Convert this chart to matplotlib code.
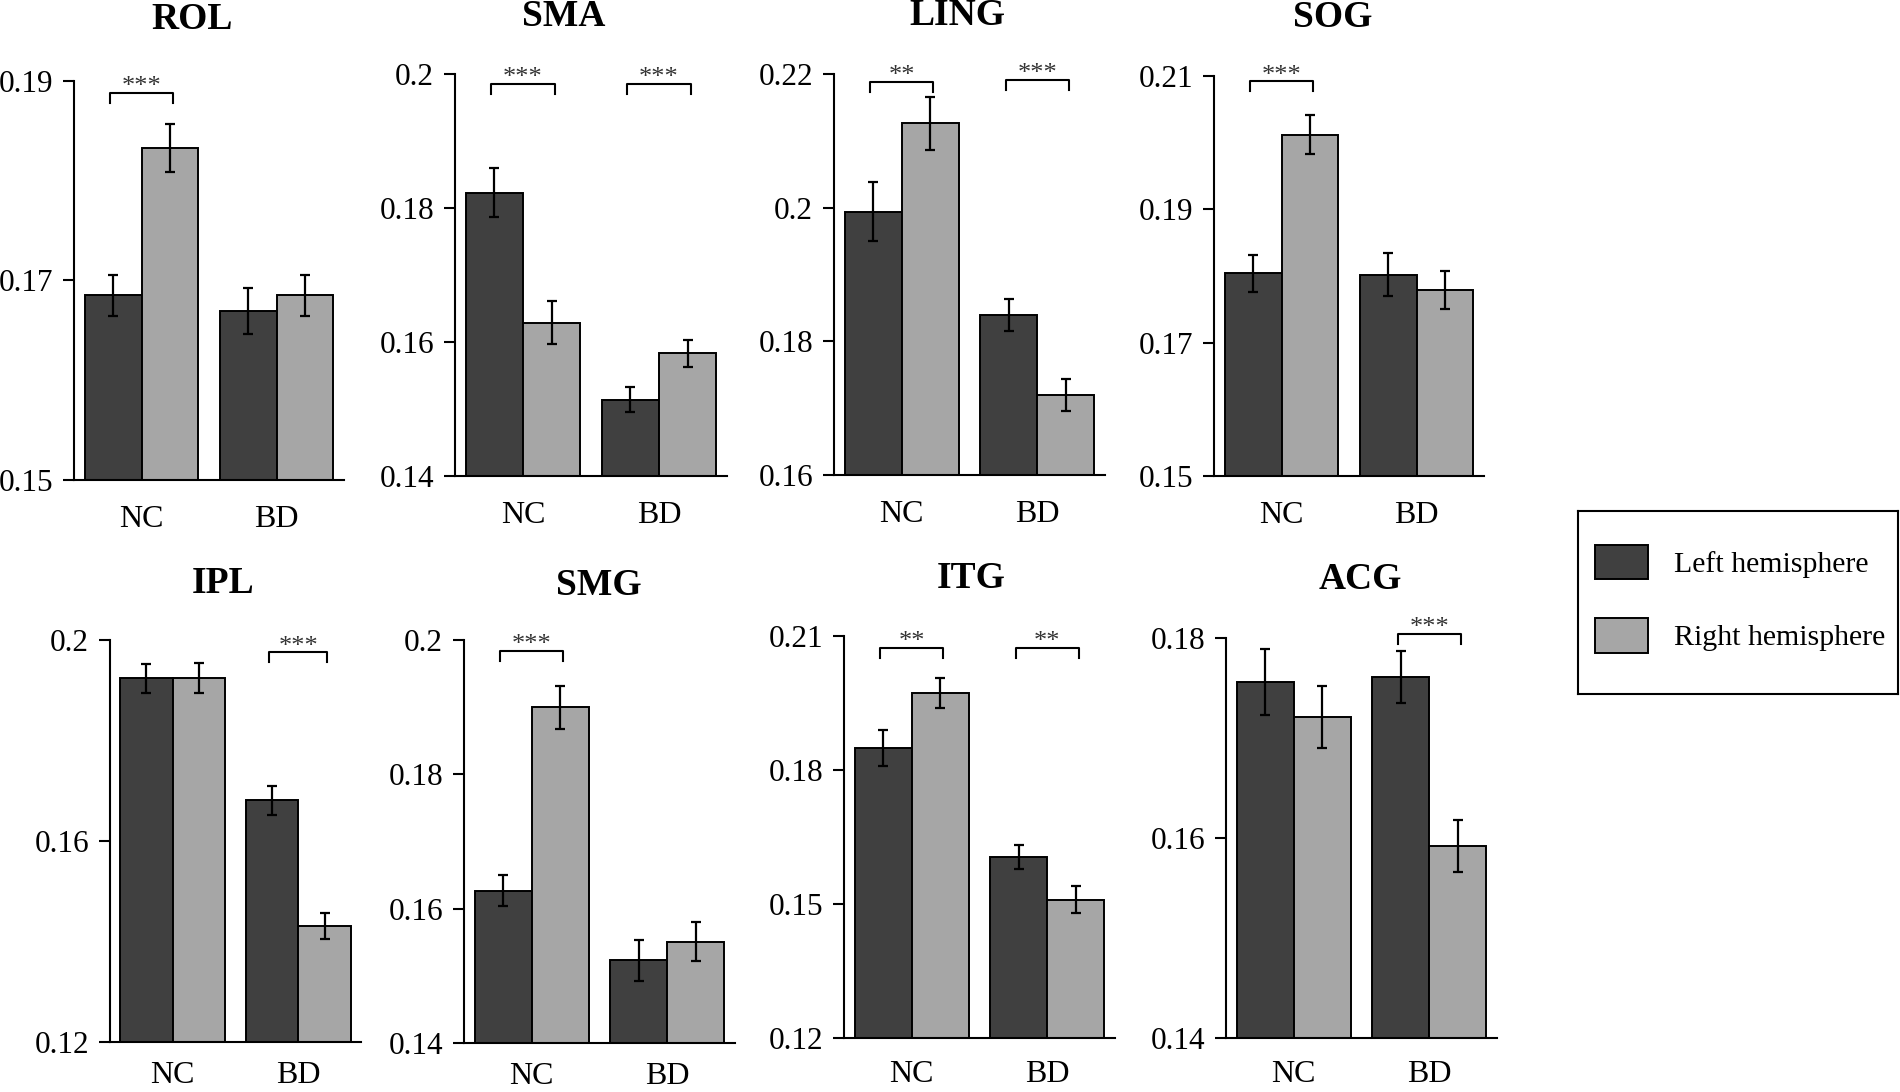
import numpy as np
import matplotlib
matplotlib.use("Agg")
import matplotlib.pyplot as plt
import matplotlib.patches as mpatches

plt.rcParams['font.family'] = ['Liberation Serif', 'DejaVu Serif']

# Data
regions = ["ROL", "SMA", "LING", "SOG", "IPL", "SMG", "ITG", "ACG"]
groups = ["NC", "BD"]

nc_left = [0.1685, 0.1823, 0.1994, 0.1804, 0.1924, 0.1627, 0.1849, 0.1756]
nc_right = [0.1833, 0.1629, 0.2126, 0.2012, 0.1925, 0.1900, 0.1972, 0.1721]
bd_left = [0.1669, 0.1514, 0.1840, 0.1802, 0.1681, 0.1523, 0.1605, 0.1761]
bd_right = [0.1685, 0.1583, 0.1720, 0.1779, 0.1431, 0.1551, 0.1510, 0.1592]

nc_left_err = [0.0021, 0.0036, 0.0044, 0.0028, 0.0029, 0.0023, 0.0040, 0.0033]
nc_right_err = [0.0024, 0.0032, 0.0040, 0.0029, 0.0030, 0.0032, 0.0034, 0.0031]
bd_left_err = [0.0023, 0.0019, 0.0024, 0.0032, 0.0029, 0.0031, 0.0026, 0.0026]
bd_right_err = [0.0021, 0.0020, 0.0024, 0.0029, 0.0026, 0.0029, 0.0031, 0.0026]

y_ticks = [
    [0.15, 0.17, 0.19],
    [0.14, 0.16, 0.18, 0.20],
    [0.16, 0.18, 0.20, 0.22],
    [0.15, 0.17, 0.19, 0.21],
    [0.12, 0.16, 0.20],
    [0.14, 0.16, 0.18, 0.20],
    [0.12, 0.15, 0.18, 0.21],
    [0.14, 0.16, 0.18],
]

# significance: (group index, stars, bracket height)
sig_marks = [
    [(0, "***", 0.1888)],
    [(0, "***", 0.1985), (1, "***", 0.1985)],
    [(0, "**", 0.2188), (1, "***", 0.2191)],
    [(0, "***", 0.2092)],
    [(1, "***", 0.1976)],
    [(0, "***", 0.1984)],
    [(0, "**", 0.2074), (1, "**", 0.2074)],
    [(1, "***", 0.1804)],
]

# layout in pixels: (left, top, width, bottom), title (x, baseline), x label pad
W, H = 1900, 1092
panel_px = [
    (74, 81, 270, 480), (455, 74, 272, 476), (834, 74, 271, 475), (1214, 76, 270, 476),
    (110, 640, 251, 1042), (464, 640, 271, 1043), (844, 636, 271, 1038), (1226, 638, 271, 1038),
]
title_px = [(192, 29), (564, 26), (957, 25), (1333, 27),
            (223, 593), (599, 595), (971, 588), (1360, 589)]
xlabel_pad = [18, 18, 18, 18, 14, 14, 16, 16]

dark = "#404040"
light = "#a6a6a6"
bw = 0.42

fig = plt.figure(figsize=(19, 10.92), dpi=100)

for i, name in enumerate(regions):
    l, t, w, b = panel_px[i]
    ax = fig.add_axes([l / W, 1 - b / H, w / W, (b - t) / H])
    x = np.arange(len(groups))
    lv = [nc_left[i], bd_left[i]]
    rv = [nc_right[i], bd_right[i]]
    le = [nc_left_err[i], bd_left_err[i]]
    re = [nc_right_err[i], bd_right_err[i]]
    ax.bar(x - bw / 2, lv, bw, color=dark, edgecolor="black", linewidth=1.4,
           yerr=le, error_kw=dict(ecolor="black", elinewidth=1.6, capsize=3.5, capthick=1.6))
    ax.bar(x + bw / 2, rv, bw, color=light, edgecolor="black", linewidth=1.4,
           yerr=re, error_kw=dict(ecolor="black", elinewidth=1.6, capsize=3.5, capthick=1.6))

    yt = y_ticks[i]
    ax.set_ylim(yt[0], yt[-1])
    ax.set_xlim(-0.5, 1.5)
    ax.set_yticks(yt)
    ax.set_yticklabels(["%g" % v for v in yt])
    ax.set_xticks(x)
    ax.set_xticklabels(groups)
    ax.tick_params(axis="y", direction="out", length=8, width=1.5, labelsize=22.5, pad=7)
    ax.tick_params(axis="x", length=0, labelsize=23, pad=xlabel_pad[i])
    for s in ["top", "right"]:
        ax.spines[s].set_visible(False)
    ax.spines["left"].set_linewidth(1.5)
    ax.spines["bottom"].set_linewidth(1.5)

    rng = yt[-1] - yt[0]
    for g, stars, h in sig_marks[i]:
        x0, x1 = g - 0.233, g + 0.233
        ax.plot([x0, x0, x1, x1], [h - 0.025 * rng, h, h, h - 0.025 * rng],
                color="black", linewidth=1.5, clip_on=False)
        ax.annotate(stars, xy=(g, h), xytext=(0, 4), textcoords="offset points",
                    ha="center", va="center", fontsize=19, color="#333333",
                    annotation_clip=False)

    tx, ty = title_px[i]
    fig.text(tx / W, 1 - ty / H, name, ha="center", va="baseline",
             fontsize=27, fontweight="bold")

# legend box
lax = fig.add_axes([1578 / W, 1 - 694 / H, 320 / W, 183 / H])
lax.set_xticks([])
lax.set_yticks([])
for s in lax.spines.values():
    s.set_linewidth(1.5)
handles = [mpatches.Patch(facecolor=dark, edgecolor="black", linewidth=1.4),
           mpatches.Patch(facecolor=light, edgecolor="black", linewidth=1.4)]
lax.legend(handles, ["Left hemisphere", "Right hemisphere"], loc="center left",
           bbox_to_anchor=(0.053, 0.52), frameon=False, fontsize=21.5,
           borderpad=0, borderaxespad=0, handlelength=1.77, handleheight=1.4,
           handletextpad=0.87, labelspacing=1.3)

fig.savefig("out.png", dpi=100)
